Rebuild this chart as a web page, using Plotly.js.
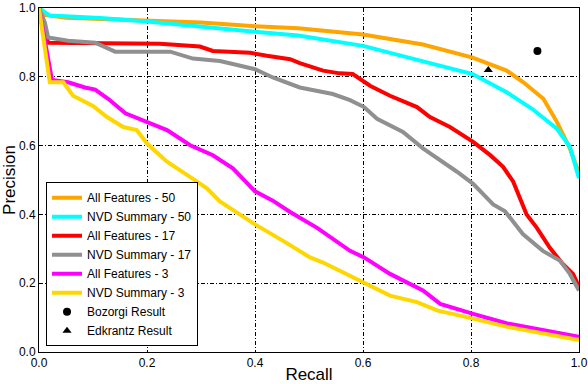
<!DOCTYPE html>
<html>
<head>
<meta charset="utf-8">
<script src="https://cdn.plot.ly/plotly-3.0.1.min.js"></script>
<style>
  body { margin: 0; padding: 0; background: #fff; }
  #chart { width: 588px; height: 384px; }
</style>
</head>
<body>
<div id="chart"></div>
<script>
// precision / recall curves
var allFeat50X = [0, 0.01, 0.05, 0.113, 0.2, 0.3, 0.4, 0.48, 0.6, 0.711, 0.803, 0.866, 0.897, 0.934, 0.959, 0.983, 1.0];
var allFeat50Y = [1.0, 0.98, 0.972, 0.968, 0.965, 0.958, 0.947, 0.941, 0.923, 0.894, 0.856, 0.818, 0.784, 0.736, 0.669, 0.592, 0.52];

var nvd50X = [0, 0.02, 0.113, 0.2, 0.4, 0.48, 0.6, 0.711, 0.803, 0.866, 0.913, 0.959, 0.983, 1.0];
var nvd50Y = [1.0, 0.978, 0.971, 0.961, 0.931, 0.92, 0.89, 0.846, 0.808, 0.755, 0.707, 0.649, 0.597, 0.505];

var allFeat17X = [0, 0.017, 0.224, 0.298, 0.322, 0.391, 0.422, 0.465, 0.483, 0.526, 0.557, 0.581, 0.613, 0.65, 0.7, 0.724, 0.761, 0.804, 0.835, 0.859, 0.878, 0.885, 0.896, 0.903, 0.922, 0.946, 0.97, 0.989, 1.0];
var allFeat17Y = [1.0, 0.899, 0.896, 0.888, 0.875, 0.87, 0.861, 0.851, 0.84, 0.818, 0.81, 0.808, 0.774, 0.745, 0.712, 0.683, 0.654, 0.611, 0.573, 0.539, 0.496, 0.467, 0.425, 0.40, 0.361, 0.303, 0.256, 0.227, 0.19];

var nvd17X = [0, 0.011, 0.017, 0.03, 0.054, 0.104, 0.141, 0.215, 0.243, 0.285, 0.335, 0.359, 0.4, 0.433, 0.483, 0.544, 0.576, 0.602, 0.626, 0.674, 0.711, 0.774, 0.804, 0.841, 0.863, 0.896, 0.933, 0.965, 0.983, 1.0];
var nvd17Y = [1.0, 0.957, 0.914, 0.911, 0.905, 0.899, 0.873, 0.873, 0.873, 0.853, 0.846, 0.837, 0.822, 0.798, 0.769, 0.75, 0.732, 0.712, 0.678, 0.64, 0.592, 0.524, 0.489, 0.429, 0.409, 0.343, 0.294, 0.265, 0.227, 0.179];

var allFeat3X = [0, 0.024, 0.054, 0.085, 0.104, 0.128, 0.16, 0.196, 0.237, 0.28, 0.322, 0.359, 0.4, 0.433, 0.465, 0.515, 0.557, 0.576, 0.602, 0.65, 0.711, 0.743, 0.804, 0.867, 1.0];
var allFeat3Y = [1.0, 0.791, 0.784, 0.769, 0.763, 0.736, 0.694, 0.67, 0.645, 0.601, 0.572, 0.534, 0.467, 0.44, 0.407, 0.361, 0.313, 0.294, 0.275, 0.227, 0.179, 0.14, 0.111, 0.083, 0.044];

var nvd3X = [0, 0.02, 0.045, 0.063, 0.1, 0.126, 0.156, 0.181, 0.2, 0.237, 0.274, 0.311, 0.335, 0.372, 0.4, 0.452, 0.502, 0.526, 0.602, 0.65, 0.7, 0.737, 0.804, 0.867, 1.0];
var nvd3Y = [1.0, 0.784, 0.784, 0.745, 0.715, 0.683, 0.654, 0.645, 0.606, 0.553, 0.515, 0.476, 0.438, 0.40, 0.371, 0.323, 0.275, 0.26, 0.203, 0.164, 0.145, 0.121, 0.097, 0.073, 0.035];

var bozorgiX = [0.923];
var bozorgiY = [0.875];
var edkrantzX = [0.832];
var edkrantzY = [0.82];

var tickVals = [0, 0.2, 0.4, 0.6, 0.8, 1.0];
var tickText = ['0.0', '0.2', '0.4', '0.6', '0.8', '1.0'];

var fontName = '"Liberation Sans", Arial, sans-serif';

function curve(name, xs, ys, color) {
	return {
		x: xs,
		y: ys,
		name: name,
		type: 'scatter',
		mode: 'lines',
		line: { color: color, width: 4 }
	};
}

var data = [
	curve('All Features - 50', allFeat50X, allFeat50Y, '#ffa500'),
	curve('NVD Summary - 50', nvd50X, nvd50Y, '#00ffff'),
	curve('All Features - 17', allFeat17X, allFeat17Y, '#ff0000'),
	curve('NVD Summary - 17', nvd17X, nvd17Y, '#909090'),
	curve('All Features - 3', allFeat3X, allFeat3Y, '#ff00ff'),
	curve('NVD Summary - 3', nvd3X, nvd3Y, '#ffd700'),
	{
		x: bozorgiX, y: bozorgiY, name: 'Bozorgi Result',
		type: 'scatter', mode: 'markers',
		marker: { symbol: 'circle', size: 8, color: '#000' }
	},
	{
		x: edkrantzX, y: edkrantzY, name: 'Edkrantz Result',
		type: 'scatter', mode: 'markers',
		marker: { symbol: 'triangle-up', size: 8, color: '#000' }
	}
];

var axisCommon = {
	range: [0, 1],
	tickmode: 'array',
	tickvals: tickVals,
	ticktext: tickText,
	ticklabeloverflow: 'allow',
	showgrid: true,
	gridcolor: '#000',
	gridwidth: 1,
	griddash: '4px,2px,1px,2px',
	zeroline: false,
	showline: true,
	linecolor: '#000',
	linewidth: 1,
	mirror: true,
	ticks: '',
	automargin: false,
	tickfont: { family: fontName, size: 12, color: '#000' }
};

var layout = {
	width: 588,
	height: 384,
	margin: { l: 39, r: 9, t: 8, b: 32 },
	paper_bgcolor: '#fff',
	plot_bgcolor: '#fff',
	font: { family: fontName, color: '#000' },
	showlegend: true,
	xaxis: Object.assign({}, axisCommon, {
		title: { text: 'Recall', font: { family: fontName, size: 17 }, standoff: 0 }
	}),
	yaxis: Object.assign({}, axisCommon, {
		title: { text: 'Precision', font: { family: fontName, size: 17 }, standoff: 2 }
	}),
	legend: {
		x: 0.013, y: 0.017,
		xanchor: 'left', yanchor: 'bottom',
		bgcolor: '#fff',
		bordercolor: '#000',
		borderwidth: 1,
		itemwidth: 30,
		font: { family: fontName, size: 12, color: '#000' }
	}
};

Plotly.newPlot('chart', data, layout, { displayModeBar: false, staticPlot: true });
</script>
</body>
</html>
